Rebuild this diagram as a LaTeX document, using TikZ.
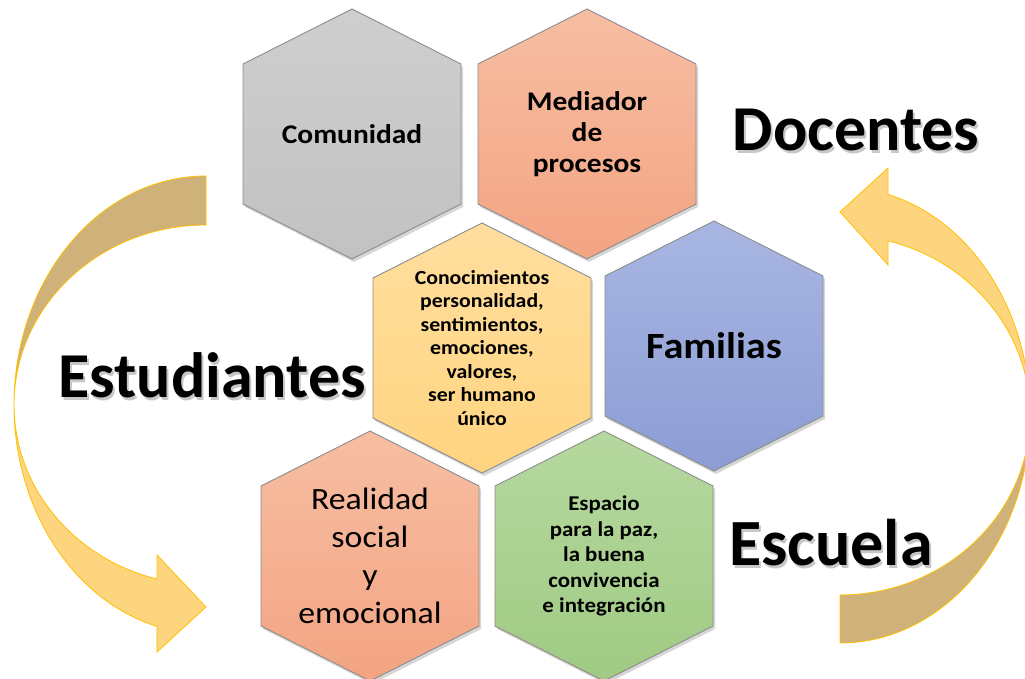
\documentclass[tikz,border=0pt]{standalone}
\usepackage{fontspec}
\setmainfont{Carlito}
\definecolor{bandDark}{HTML}{CFB27A}
\definecolor{bandLight}{HTML}{FDD57E}
\definecolor{bandLine}{HTML}{FFC000}
\definecolor{hexLine}{HTML}{8C8C8C}
\tikzset{
  hexshape/.style={draw=hexLine, line width=0.9pt},
  hexshadow/.style={fill=black, opacity=0.16},
  grayhex/.style={hexshape, top color=gray!38, bottom color=gray!48},
  orangehex/.style={hexshape, top color={rgb,255:red,247;green,190;blue,163}, bottom color={rgb,255:red,243;green,164;blue,130}},
  yellowhex/.style={hexshape, top color={rgb,255:red,255;green,222;blue,158}, bottom color={rgb,255:red,255;green,212;blue,128}},
  bluehex/.style={hexshape, top color={rgb,255:red,168;green,182;blue,226}, bottom color={rgb,255:red,140;green,157;blue,212}},
  greenhex/.style={hexshape, top color={rgb,255:red,182;green,216;blue,160}, bottom color={rgb,255:red,160;green,203;blue,131}},
  hextext/.style={align=center, inner sep=0pt, text=black, xscale=1.09},
  bandback/.style={fill=bandDark, draw=bandLine, line width=0.8pt},
  bandfront/.style={fill=bandLight, draw=bandLine, line width=0.8pt},
  bigword/.style={font=\fontsize{#1}{#1}\selectfont\bfseries, inner sep=0pt, text=black},
  bigshadow/.style={font=\fontsize{#1}{#1}\selectfont\bfseries, inner sep=0pt, text=black, opacity=0.22}
}
\newcommand\hexa[6]{%
  \path[hexshadow] (#2+2,#3-125+3) -- (#2+111,#3-70+3) -- (#2+111,#3+70+3) -- (#2+2,#3+125+3) -- (#2-107,#3+70+3) -- (#2-107,#3-70+3) -- cycle;
  \path[#4] (#2,#3-125) -- (#2+109,#3-70) -- (#2+109,#3+70) -- (#2,#3+125) -- (#2-109,#3+70) -- (#2-109,#3-70) -- cycle;
  \node[hextext, font={#5}] (#1) at (#2,#3) {#6};}
\begin{document}
\begin{tikzpicture}[x=1pt, y=-1pt]
\useasboundingbox (0,0) rectangle (1025,679);
\clip (0,0) rectangle (1025,679);
% left curved arrow
\path[bandback] (206,176) arc[start angle=90, end angle=180, x radius=192pt, y radius=229pt]
  arc[start angle=180, end angle=90, x radius=192pt, y radius=180pt] -- cycle;
\path[bandfront] (14,405) arc[start angle=180, end angle=255.2, x radius=192pt, y radius=229pt]
  -- (157,652) -- (206,607) -- (157,555) -- (157,579)
  arc[start angle=255.2, end angle=180, x radius=192pt, y radius=180pt] -- cycle;
% right curved arrow
\path[bandback] (1030,415) arc[start angle=0, end angle=-90, x radius=190pt, y radius=228pt]
  -- (840,595) arc[start angle=-90, end angle=0, x radius=190pt, y radius=180pt] -- cycle;
\path[bandfront] (888,194.4) arc[start angle=75.37, end angle=0, x radius=190pt, y radius=228pt]
  arc[start angle=0, end angle=75.37, x radius=190pt, y radius=180pt]
  -- (888,265) -- (840,212) -- (888,168) -- cycle;
% hexagons
\hexa{comunidad}{352}{134}{grayhex}{\fontsize{27}{31}\selectfont\bfseries}{Comunidad}
\hexa{mediador}{587}{134}{orangehex}{\fontsize{27}{31}\selectfont\bfseries}{Mediador\\de\\procesos}
\hexa{conoc}{482}{348}{yellowhex}{\fontsize{20}{23.5}\selectfont\bfseries}{Conocimientos\\personalidad,\\sentimientos,\\emociones,\\valores,\\ser humano\\único}
\hexa{familias}{714}{346}{bluehex}{\fontsize{37}{42}\selectfont\bfseries}{Familias}
\hexa{realidad}{370}{556}{orangehex}{\fontsize{31}{38}\selectfont}{Realidad\\social\\y\\emocional}
\hexa{espacio}{604}{556}{greenhex}{\fontsize{21}{25.5}\selectfont\bfseries}{Espacio\\para la paz,\\la buena\\convivencia\\e integración}
% big words
\node[bigshadow=64] at (858,133) {Docentes};
\node[bigword=64] (docentes) at (856,130) {Docentes};
\node[bigshadow=64] at (214,378) {Estudiantes};
\node[bigword=64] (estudiantes) at (212,375) {Estudiantes};
\node[bigshadow=66] at (833,546) {Escuela};
\node[bigword=66] (escuela) at (831,543) {Escuela};
\end{tikzpicture}
\end{document}
